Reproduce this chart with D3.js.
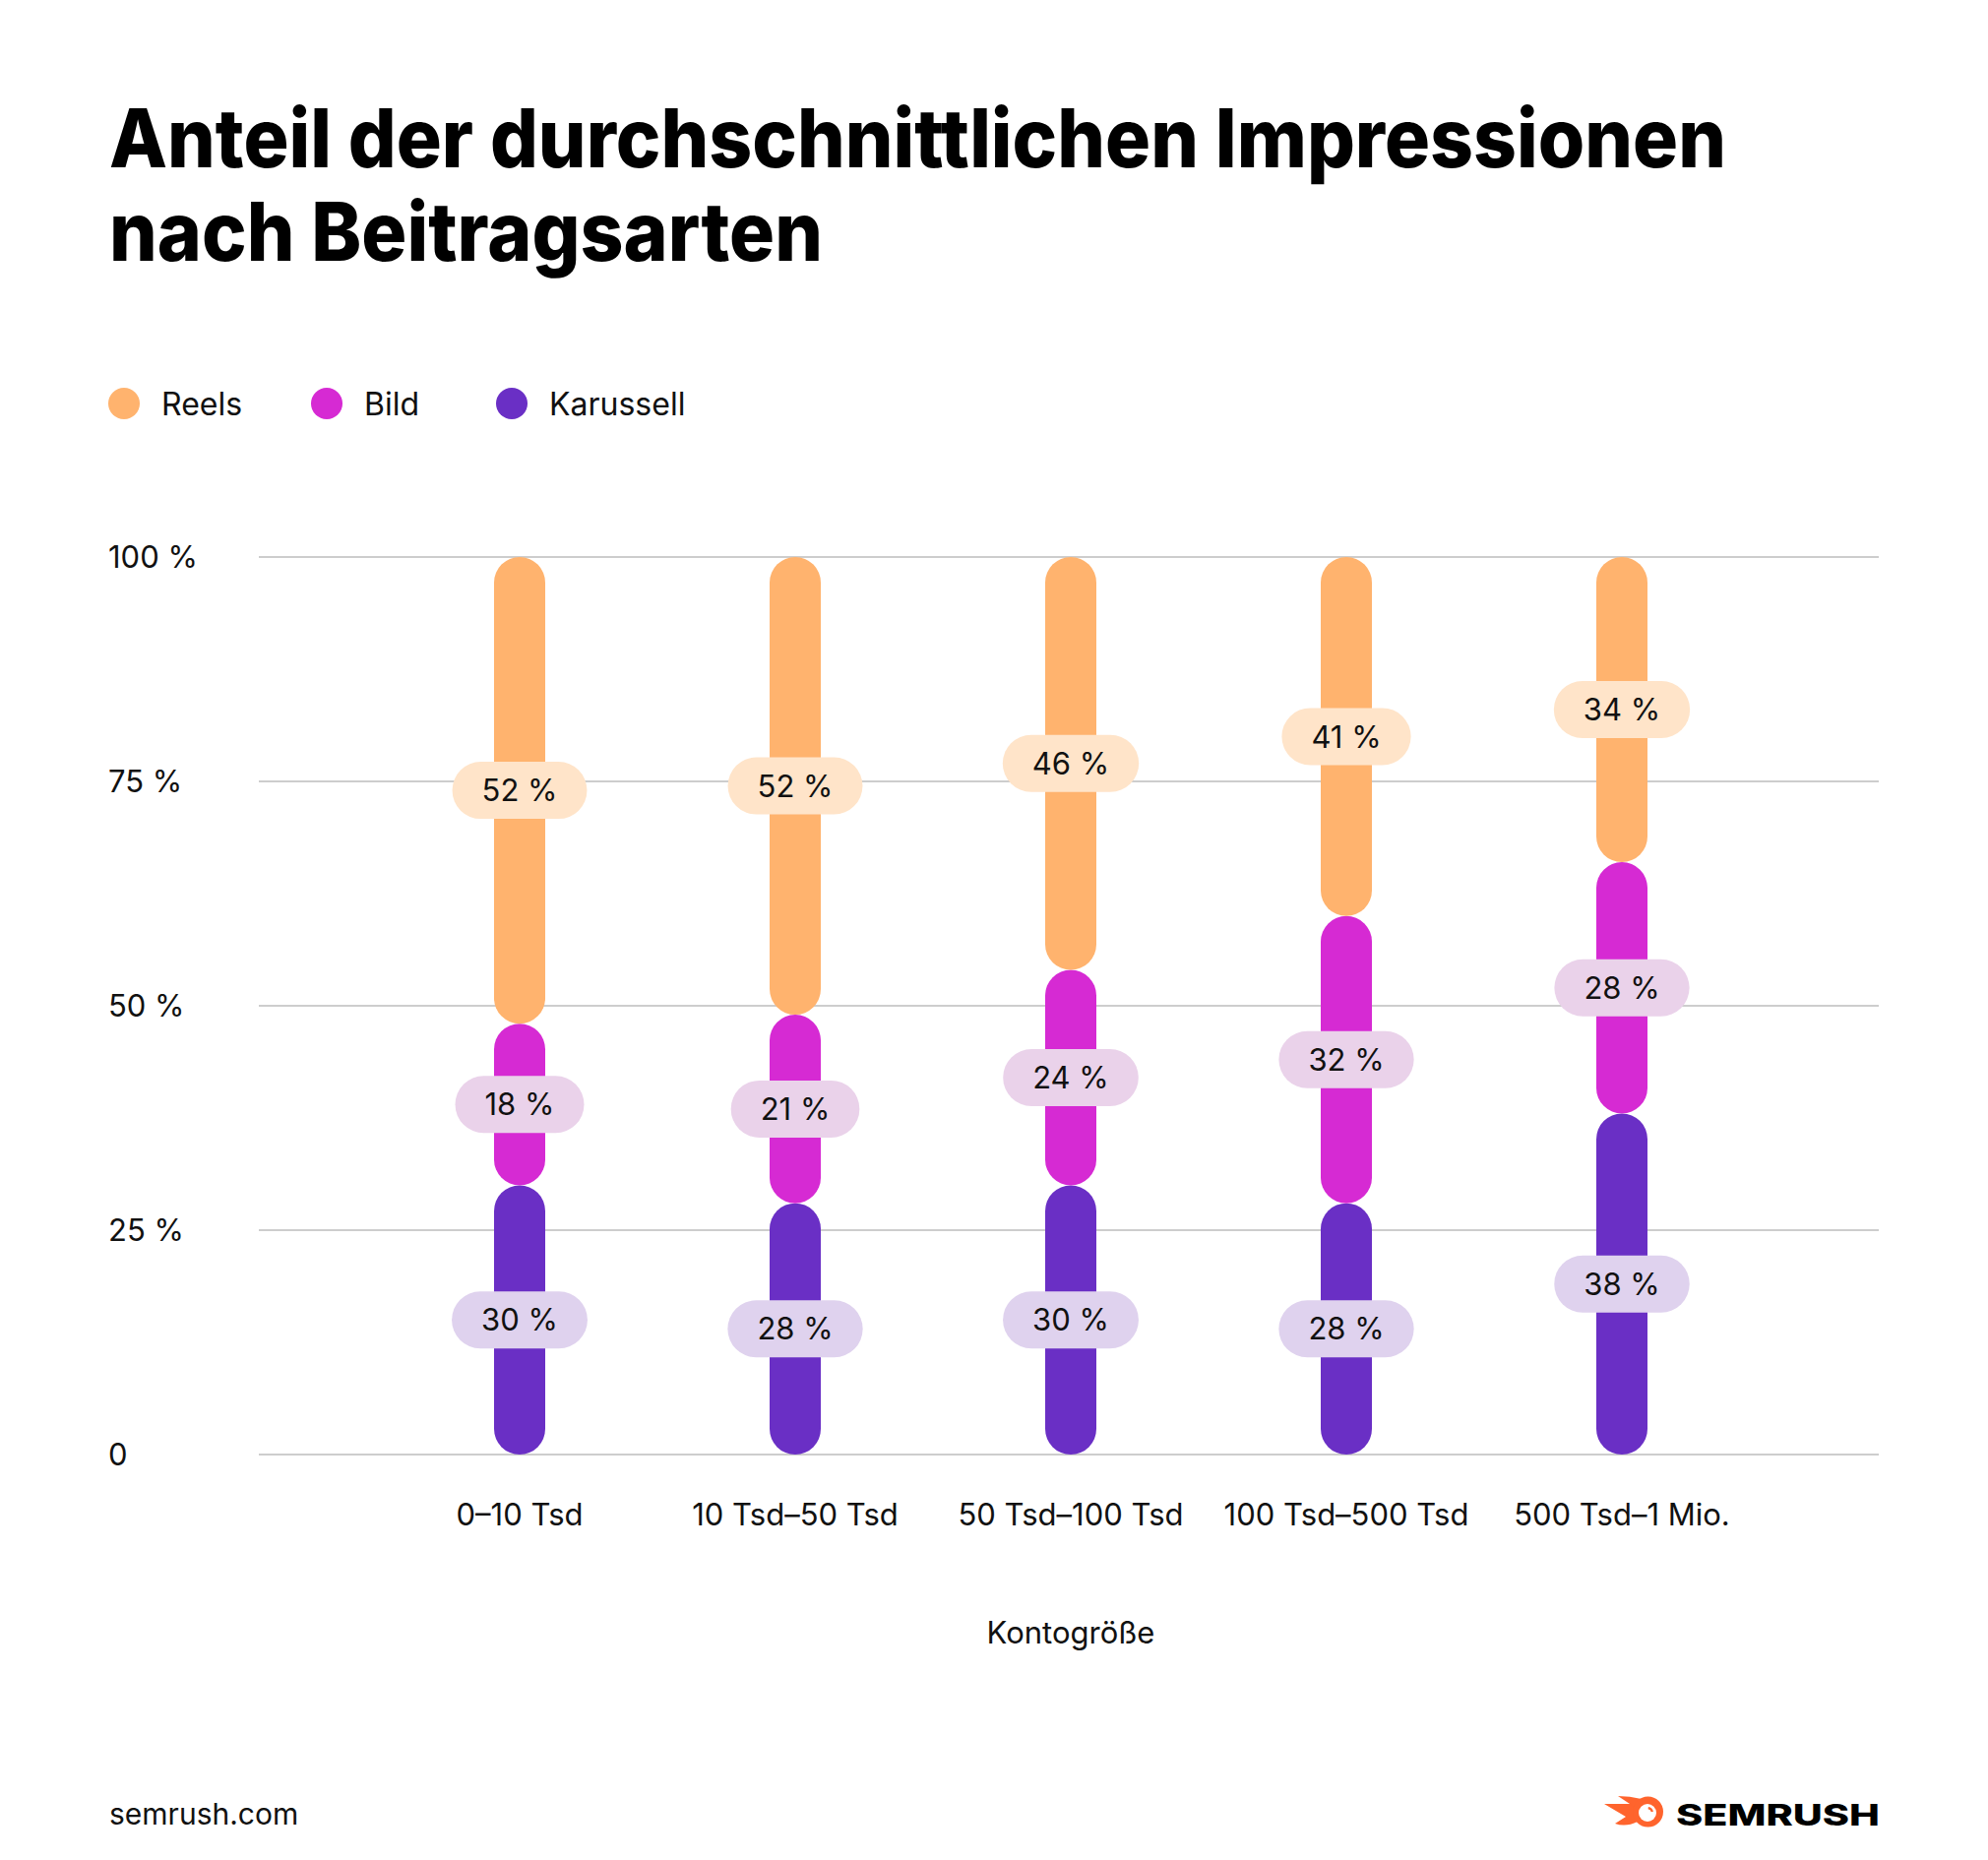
<!DOCTYPE html>
<html><head><meta charset="utf-8">
<script src="https://cdn.jsdelivr.net/npm/d3@7"></script>
<style>
html,body{margin:0;padding:0;background:#fff;}
svg{display:block;}
text{font-family:Inter,"Noto Sans",sans-serif;fill:#111;}
</style></head>
<body>
<svg id="c" width="2020" height="1890"></svg>
<script>
const categories = ["0–10 Tsd", "10 Tsd–50 Tsd", "50 Tsd–100 Tsd", "100 Tsd–500 Tsd", "500 Tsd–1 Mio."];
const seriesNames = ["Reels", "Bild", "Karussell"];
const reels = [52, 52, 46, 41, 34];
const bild = [18, 21, 24, 32, 28];
const karussell = [30, 28, 30, 28, 38];
const yTicks = [0, 25, 50, 75, 100];
const yTickLabels = ["0", "25 %", "50 %", "75 %", "100 %"];
const barColors = ["#FFB36E", "#D62AD3", "#6A2FC5"];
const pillColors = ["#FFE4C9", "#EAD2EA", "#DFD2EE"];

const svg = d3.select("#c");
const y = d3.scaleLinear().domain([0, 100]).range([1478, 566]);
const x = d3.scaleBand().domain(categories).range([388, 1788]).padding(0);
const barW = 52;

// Title
const title = svg.append("g");
[["Anteil der durchschnittlichen Impressionen", 170, 1643], ["nach Beitragsarten", 265, 725]].forEach(([t, yy, w]) => {
  title.append("text").attr("x", 111).attr("y", yy).attr("font-size", 83).attr("font-weight", 800)
    .style("fill", "#000")
    .attr("textLength", w).attr("lengthAdjust", "spacingAndGlyphs").text(t);
});

// Legend
const legX = [126, 332, 520];
const leg = svg.append("g");
seriesNames.forEach((n, i) => {
  leg.append("circle").attr("cx", legX[i]).attr("cy", 410).attr("r", 16).attr("fill", barColors[i]);
  leg.append("text").attr("x", legX[i] + 38).attr("y", 422).attr("font-size", 32).text(n);
});

// Gridlines + y labels
const grid = svg.append("g");
yTicks.forEach((t, i) => {
  grid.append("line").attr("x1", 263).attr("x2", 1909).attr("y1", y(t)).attr("y2", y(t))
    .attr("stroke", "#CDCDCD").attr("stroke-width", 2);
  grid.append("text").attr("x", 110).attr("y", y(t)).attr("dy", "0.36em").attr("font-size", 31).text(yTickLabels[i]);
});

// Stacked segments (bottom: Karussell, then Bild, then Reels), clipped at 100 %
const rows = categories.map((c, i) => ({cat: c, Karussell: karussell[i], Bild: bild[i], Reels: reels[i]}));
const stack = d3.stack().keys(["Karussell", "Bild", "Reels"]);
const layers = stack(rows);
const segs = [];
layers.forEach(layer => {
  const si = seriesNames.indexOf(layer.key);
  layer.forEach((d, j) => {
    segs.push({cat: categories[j], y0: d[0], y1: Math.min(100, d[1]), v: d.data[layer.key], si});
  });
});

const bars = svg.append("g");
bars.selectAll("rect").data(segs).join("rect")
  .attr("x", d => x(d.cat) + x.bandwidth() / 2 - barW / 2)
  .attr("width", barW)
  .attr("y", d => y(d.y1))
  .attr("height", d => y(d.y0) - y(d.y1))
  .attr("rx", barW / 2)
  .attr("fill", d => barColors[d.si]);

// Labels as pills
const labels = svg.append("g");
segs.forEach(d => {
  const cx = x(d.cat) + x.bandwidth() / 2;
  const cy = y((d.y0 + d.y1) / 2);
  const g = labels.append("g");
  const r = g.append("rect").attr("fill", pillColors[d.si]);
  const t = g.append("text").attr("x", cx).attr("y", cy).attr("dy", "0.36em")
    .attr("text-anchor", "middle").attr("font-size", 31).text(d.v + " %");
  const w = t.node().getComputedTextLength() + 60;
  r.attr("x", cx - w / 2).attr("y", cy - 29).attr("width", w).attr("height", 58).attr("rx", 29);
});

// X labels
const xl = svg.append("g");
categories.forEach(c => {
  xl.append("text").attr("x", x(c) + x.bandwidth() / 2).attr("y", 1550)
    .attr("text-anchor", "middle").attr("font-size", 31).text(c);
});
svg.append("text").attr("x", 1088).attr("y", 1670).attr("text-anchor", "middle").attr("font-size", 31).text("Kontogröße");

// Footer
svg.append("text").attr("x", 111).attr("y", 1854).attr("font-size", 30).text("semrush.com");

// Semrush logo
const logo = svg.append("g");
const orange = "#FF642D";
logo.append("path").attr("fill", orange)
  .attr("d", "M1630,1833 L1662,1833 L1664,1851 Q1652,1857 1641,1853 L1652,1846 Z");
logo.append("path").attr("fill", orange)
  .attr("d", "M1644,1825 Q1656,1825 1668,1828 L1662,1837 Z");
logo.append("circle").attr("cx", 1674.5).attr("cy", 1841).attr("r", 15.5).attr("fill", orange);
logo.append("circle").attr("cx", 1674).attr("cy", 1842).attr("r", 9).attr("fill", "#fff");
logo.append("path").attr("fill", "none").attr("stroke", orange).attr("stroke-width", 2.2).attr("stroke-linecap", "round")
  .attr("transform", "translate(1674,1842)")
  .attr("d", d3.arc().innerRadius(5).outerRadius(5).startAngle(0.15).endAngle(1.35)());
logo.append("text").attr("x", 1703).attr("y", 1855).attr("font-size", 30).attr("font-weight", 800)
  .style("fill", "#000")
  .attr("textLength", 207).attr("lengthAdjust", "spacingAndGlyphs").text("SEMRUSH");
</script>
</body></html>
